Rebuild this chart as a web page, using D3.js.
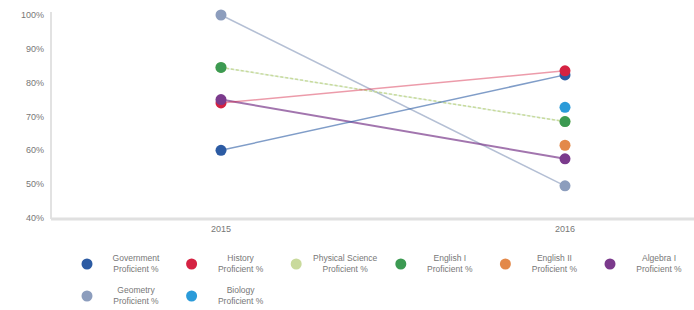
<!DOCTYPE html>
<html>
<head>
<meta charset="utf-8">
<script src="https://cdn.jsdelivr.net/npm/d3@7"></script>
<style>
  body { margin: 0; background: #fff; }
  svg text { font-family: "Liberation Sans", "DejaVu Sans", sans-serif; fill: #777; }
</style>
</head>
<body>
<div id="chart"></div>
<script>
// years on the x axis
const years = ['2015', '2016'];
// series names (legend order)
const subjects = ['Government', 'History', 'Physical Science', 'English I', 'English II', 'Algebra I', 'Geometry', 'Biology'];
// percent proficient per series, [2015, 2016], null = no value
const govValues = [60, 82.3];
const historyValues = [74, 83.5];
const physSciValues = [84.5, 68.5];
const english1Values = [84.5, 68.5];
const english2Values = [null, 61.5];
const algebraValues = [75, 57.5];
const geometryValues = [100, 49.5];
const biologyValues = [null, 72.7];
const yTicks = [40, 50, 60, 70, 80, 90, 100];

const colors = ['#2c5ba3', '#d52242', '#c9da9c', '#3c9a52', '#e3894a', '#7b3a8c', '#8c9dbd', '#2b9bd9'];
const lineOpacity = [0.6, 0.45, 1, 0.12, 0.6, 0.7, 0.65, 0.6];
const series = [govValues, historyValues, physSciValues, english1Values, english2Values, algebraValues, geometryValues, biologyValues]
  .map((values, i) => ({ name: subjects[i], color: colors[i], opacity: lineOpacity[i], values: values.map((v, j) => ({ year: years[j], value: v })) }));

const width = 694, height = 310;
const svg = d3.select('#chart').append('svg')
  .attr('width', width)
  .attr('height', height);

const scaleX = d3.scalePoint().domain(years).range([49, 737]).padding(0.5);
const scaleY = d3.scaleLinear().domain([40, 100]).range([218, 15]);

// axes lines
svg.append('line')
  .attr('x1', 51).attr('x2', 51).attr('y1', 12).attr('y2', 219)
  .attr('stroke', '#e2e2e2').attr('stroke-width', 2);
svg.append('line')
  .attr('x1', 51).attr('x2', width).attr('y1', 219).attr('y2', 219)
  .attr('stroke', '#e0e0e0').attr('stroke-width', 3);

// y tick labels
svg.selectAll('.y-label')
  .data(yTicks)
  .join('text')
  .attr('class', 'y-label')
  .attr('x', 44)
  .attr('y', d => scaleY(d) + 3)
  .attr('text-anchor', 'end')
  .style('font-size', '9px')
  .text(d => d + '%');

// x tick labels
svg.selectAll('.x-label')
  .data(years)
  .join('text')
  .attr('class', 'x-label')
  .attr('x', d => scaleX(d))
  .attr('y', 232)
  .attr('text-anchor', 'middle')
  .style('font-size', '9px')
  .text(d => d);

const line = d3.line()
  .defined(d => d.value != null)
  .x(d => scaleX(d.year))
  .y(d => scaleY(d.value));

// lines drawn in reverse so the first series sit on top
svg.selectAll('.series-line')
  .data(series.slice().reverse())
  .join('path')
  .attr('class', 'series-line')
  .attr('d', d => line(d.values))
  .attr('fill', 'none')
  .attr('stroke', d => d.color)
  .attr('stroke-opacity', d => d.opacity)
  .attr('stroke-dasharray', d => d.name === 'Physical Science' ? '3,2' : null)
  .attr('stroke-width', d => d.name === 'Algebra I' ? 2 : 1.5);

const dots = series.flatMap(s => s.values.filter(v => v.value != null).map(v => ({ ...v, color: s.color })));
svg.selectAll('.dot')
  .data(dots)
  .join('circle')
  .attr('class', 'dot')
  .attr('cx', d => scaleX(d.year))
  .attr('cy', d => scaleY(d.value))
  .attr('r', 5.5)
  .attr('fill', d => d.color);

// legend
const legend = svg.append('g').attr('transform', 'translate(87, 264)');
const item = legend.selectAll('.legend-item')
  .data(series)
  .join('g')
  .attr('class', 'legend-item')
  .attr('transform', (d, i) => `translate(${(i % 6) * 104.6}, ${Math.floor(i / 6) * 32})`);

item.append('circle')
  .attr('r', 5.5)
  .attr('fill', d => d.color);

item.append('text')
  .attr('x', 49)
  .attr('y', -3)
  .attr('text-anchor', 'middle')
  .style('font-size', '8.5px')
  .text(d => d.name);

item.append('text')
  .attr('x', 49)
  .attr('y', 8)
  .attr('text-anchor', 'middle')
  .style('font-size', '8.5px')
  .text('Proficient %');
</script>
</body>
</html>
